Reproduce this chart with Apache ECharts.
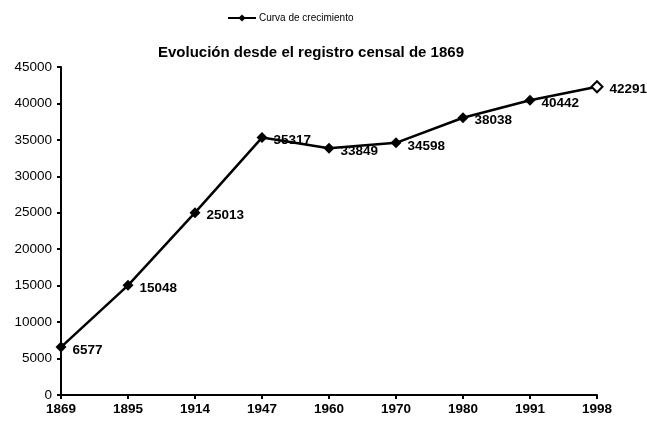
<!DOCTYPE html>
<html>
<head>
<meta charset="utf-8">
<script src="https://cdn.jsdelivr.net/npm/echarts@6/dist/echarts.min.js"></script>
<style>
  html, body { margin: 0; padding: 0; background: #fff; }
  #chart { width: 647px; height: 425px; }
</style>
</head>
<body>
<div id="chart"></div>
<script>
const years = ["1869", "1895", "1914", "1947", "1960", "1970", "1980", "1991", "1998"];
const poblacion = [6577, 15048, 25013, 35317, 33849, 34598, 38038, 40442, 42291];
const yTicks = [0, 5000, 10000, 15000, 20000, 25000, 30000, 35000, 40000, 45000];

const chart = echarts.init(document.getElementById("chart"));

// el ultimo punto va hueco
const puntos = poblacion.map((v, i) => {
  if (i === poblacion.length - 1) {
    return { value: v, itemStyle: { color: "#fff", borderColor: "#000", borderWidth: 2 } };
  }
  return v;
});

const option = {
  animation: false,
  textStyle: { fontFamily: "Liberation Sans, Arial, sans-serif" },
  title: {
    text: "Evolución desde el registro censal de 1869",
    left: 306,
    top: 40,
    textAlign: "center",
    textStyle: { fontSize: 15, fontWeight: "bold", color: "#000" },
  },
  legend: {
    data: ["Curva de crecimiento"],
    top: 8,
    left: 222,
    itemWidth: 28,
    itemHeight: 9,
    itemGap: 4,
    textStyle: { fontSize: 10, color: "#000", padding: [0, 0, 0, -2] },
  },
  grid: { left: 61, right: 50, top: 67, bottom: 30 },
  xAxis: {
    type: "category",
    data: years,
    boundaryGap: false,
    axisLine: { lineStyle: { color: "#000", width: 2 } },
    axisTick: { alignWithLabel: true, length: 4, lineStyle: { color: "#000", width: 2 } },
    axisLabel: { color: "#000", fontWeight: "bold", fontSize: 13.5, margin: 7 },
  },
  yAxis: {
    type: "value",
    min: yTicks[0],
    max: yTicks[yTicks.length - 1],
    interval: 5000,
    splitLine: { show: false },
    axisLine: { show: true, lineStyle: { color: "#000", width: 2 } },
    axisTick: { show: true, length: 4, lineStyle: { color: "#000", width: 2 } },
    axisLabel: { color: "#000", fontSize: 13.5, margin: 9, formatter: (v) => String(v) },
  },
  series: [
    {
      name: "Curva de crecimiento",
      type: "line",
      data: puntos,
      symbol: "diamond",
      symbolSize: 11,
      itemStyle: { color: "#000" },
      lineStyle: { color: "#000", width: 2.5 },
      label: {
        show: true,
        position: "right",
        distance: 6,
        offset: [0, 3],
        color: "#000",
        fontWeight: "bold",
        fontSize: 13.5,
      },
    },
  ],
};

chart.setOption(option);
</script>
</body>
</html>
